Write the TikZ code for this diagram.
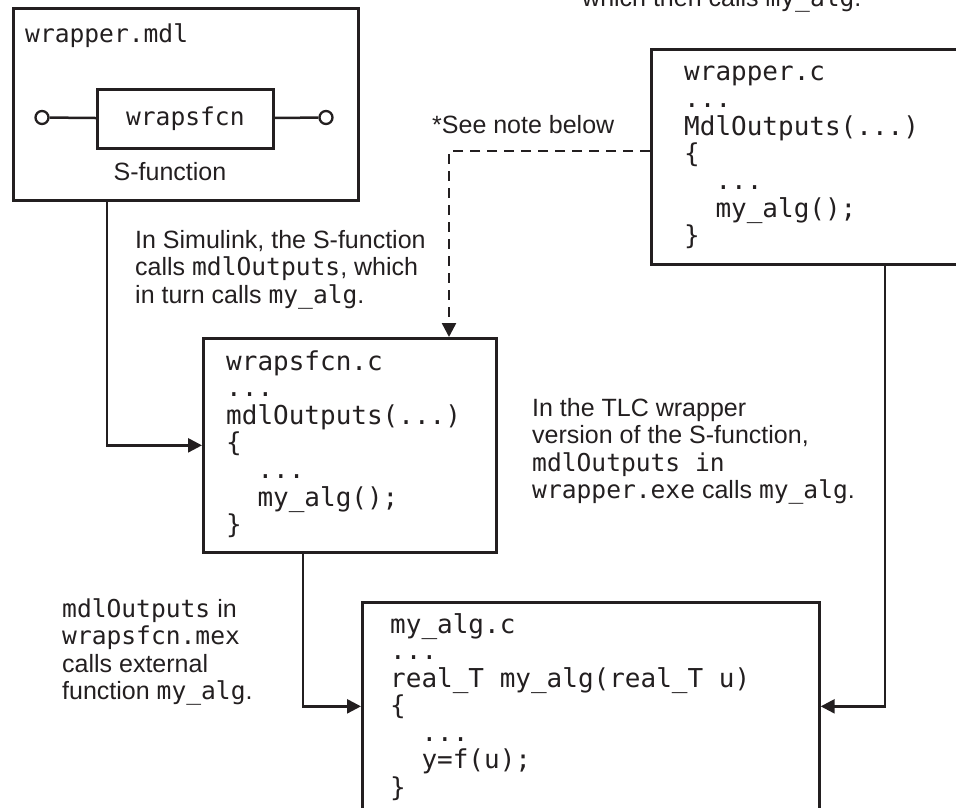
\documentclass[tikz,border=0pt]{standalone}
\usepackage{fontspec}
\setmainfont{Liberation Sans}
\newfontfamily\mono{DejaVu Sans Mono}
\usetikzlibrary{arrows.meta,calc}
\definecolor{ink}{HTML}{231F20}
\newcommand\mm[1]{{\mono\fontsize{24.6}{27.5}\selectfont #1}}
\newcommand\ind{\phantom{xx}}
\tikzset{
  frame/.style={draw=ink, line width=2.7pt, inner sep=0pt, anchor=north west},
  conn/.style={draw=ink, line width=2.5pt, -{Triangle[length=14pt,width=14pt]}},
  dconn/.style={conn, dash pattern=on 10pt off 7pt},
  plain/.style={draw=ink, line width=2.5pt},
  port/.style={circle, draw=ink, line width=2.3pt, fill=white, minimum size=13pt, inner sep=0pt},
  txt/.style={anchor=base west, inner sep=0pt, text=ink, font=\fontsize{25}{27.5}\selectfont},
  code/.style={anchor=base west, inner sep=0pt, text=ink, font=\mono\fontsize{26}{26.4}\selectfont},
  monolabel/.style={inner sep=0pt, text=ink, font=\mono\fontsize{24.6}{26}\selectfont}
}
\begin{document}
\begin{tikzpicture}[x=1pt,y=-1pt]
\useasboundingbox (0,0) rectangle (956,808);
\clip (0,0) rectangle (956,808);

% wrapper.mdl
\node[frame, minimum width=345pt, minimum height=192pt] (mdl) at (12,7) {};
\node[monolabel, anchor=base west] (mdlt) at (25,43) {wrapper.mdl};
\node[frame, minimum width=176pt, minimum height=59pt, monolabel] (sf) at (96,88) {wrapsfcn};
\node[port] (pl) at (42,117.5) {};
\node[port] (pr) at (326,117.5) {};
\draw[plain] (pl) -- (sf);
\draw[plain] (sf) -- (pr);
\node[txt, anchor=base] (sfl) at (170,180) {S-function};

% wrapper.c
\node[frame, minimum width=330pt, minimum height=215pt] (wrapc) at (650,48) {};
\node[code] (wrapct) at (684,81) {\begin{tabular}[t]{@{}l@{}}wrapper.c\\...\\MdlOutputs(...)\\\{\\\ind...\\\ind my\_alg();\\\}\end{tabular}};

% wrapsfcn.c
\node[frame, minimum width=293pt, minimum height=214pt] (wsf) at (202,337) {};
\node[code] (wsft) at (226,370) {\begin{tabular}[t]{@{}l@{}}wrapsfcn.c\\...\\mdlOutputs(...)\\\{\\\ind...\\\ind my\_alg();\\\}\end{tabular}};

% my_alg.c
\node[frame, minimum width=457pt, minimum height=208pt] (alg) at (361,601) {};
\node[code] (algt) at (390,633) {\begin{tabular}[t]{@{}l@{}}my\_alg.c\\...\\real\_T my\_alg(real\_T u)\\\{\\\ind...\\\ind y=f(u);\\\}\end{tabular}};

% texts
\node[txt] (top) at (582,7) {which then calls \mm{my\_alg}.};
\node[txt] (note) at (432,133) {*See note below};
\node[txt] (t1) at (135,248) {\begin{tabular}[t]{@{}l@{}}In Simulink, the S-function\\calls \mm{mdlOutputs}, which\\in turn calls \mm{my\_alg}.\end{tabular}};
\node[txt] (t2) at (532,416) {\begin{tabular}[t]{@{}l@{}}In the TLC wrapper\\version of the S-function,\\\mm{mdlOutputs in}\\\mm{wrapper.exe} calls \mm{my\_alg}.\end{tabular}};
\node[txt] (t3) at (62,617) {\begin{tabular}[t]{@{}l@{}}\mm{mdlOutputs} in\\\mm{wrapsfcn.mex}\\calls external\\function \mm{my\_alg}.\end{tabular}};

% connectors
\draw[conn] ($(mdl.south west)+(95,0)$) |- (wsf.west);
\draw[conn] ($(wsf.south west)+(101,0)$) |- (alg.west);
\draw[conn] ($(wrapc.south west)+(235,0)$) |- (alg.east);
\draw[dconn] ($(wrapc.north west)+(0,103)$) -| ($(wsf.north west)+(247,0)$);
\end{tikzpicture}
\end{document}
